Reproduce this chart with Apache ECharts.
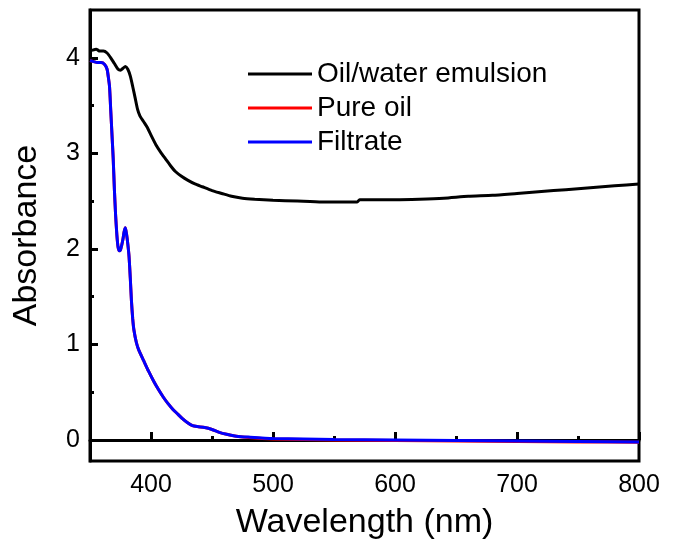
<!DOCTYPE html>
<html>
<head>
<meta charset="utf-8">
<script src="https://cdn.jsdelivr.net/npm/echarts@6/dist/echarts.min.js"></script>
<style>
html,body{margin:0;padding:0;background:#fff;}
#chart{width:676px;height:548px;}
</style>
</head>
<body>
<div id="chart"></div>
<script>
// ---- Data ----
const seriesNames = ['Oil/water emulsion', 'Pure oil', 'Filtrate'];

const emulsionWl  = [350,352,355,358,361,364,367,370,373,375,377,379,381,383,385,387,389,391,394,397,400,404,408,412,416,420,425,430,436,442,450,458,466,475,485,500,520,540,560,569,571,580,600,620,640,660,680,700,720,740,760,780,800];
const emulsionAbs = [4.07,4.08,4.09,4.07,4.07,4.05,4.00,3.94,3.88,3.87,3.89,3.91,3.88,3.81,3.70,3.58,3.46,3.39,3.33,3.27,3.19,3.09,3.01,2.94,2.87,2.81,2.76,2.72,2.68,2.65,2.61,2.58,2.55,2.53,2.52,2.51,2.50,2.49,2.49,2.49,2.515,2.515,2.515,2.52,2.53,2.55,2.56,2.58,2.60,2.62,2.64,2.66,2.68];

const oilWl  = [350,353,356,359,362,364,365,366,367,368,369,370,371,372,373,374,375,376,377,378,379,380,381,382,383,384,385,386,388,390,394,398,402,406,410,414,418,422,426,430,434,438,444,450,456,462,470,480,500,550,600,650,700,750,800];
const oilAbs = [3.97,3.96,3.95,3.95,3.93,3.88,3.80,3.70,3.45,3.20,2.95,2.62,2.35,2.15,2.02,1.98,1.99,2.04,2.10,2.18,2.22,2.15,2.05,1.92,1.70,1.45,1.27,1.15,1.02,0.94,0.83,0.72,0.62,0.53,0.45,0.38,0.32,0.27,0.22,0.18,0.15,0.14,0.13,0.11,0.08,0.06,0.04,0.025,0.01,0.0,-0.005,-0.01,-0.015,-0.02,-0.025];

const filtrateWl  = [350,353,356,359,362,364,365,366,367,368,369,370,371,372,373,374,375,376,377,378,379,380,381,382,383,384,385,386,388,390,394,398,402,406,410,414,418,422,426,430,434,438,444,450,456,462,470,480,500,550,600,650,700,750,800];
const filtrateAbs = [3.97,3.96,3.95,3.95,3.93,3.88,3.80,3.70,3.45,3.20,2.95,2.62,2.35,2.15,2.02,1.98,1.99,2.04,2.10,2.18,2.22,2.15,2.05,1.92,1.70,1.45,1.27,1.15,1.02,0.94,0.83,0.72,0.62,0.53,0.45,0.38,0.32,0.27,0.22,0.18,0.15,0.14,0.13,0.11,0.08,0.06,0.04,0.03,0.015,0.005,0.0,-0.005,-0.01,-0.015,-0.02];

const xMajorTicks = [400, 500, 600, 700, 800];
const xMinorTicks = [450, 550, 650, 750];
const yMajorTicks = [0, 1, 2, 3, 4];
const yMinorTicks = [0.5, 1.5, 2.5, 3.5];

// ---- Build chart ----
const zip = (a, b) => a.map((v, i) => [v, b[i]]);
const FONT = "'Liberation Sans', Arial, sans-serif";
const colors = ['#000000', '#ff0000', '#0000ff'];

const chart = echarts.init(document.getElementById('chart'), null, {renderer: 'canvas'});

const baseX = {type: 'value', min: 350, max: 800, position: 'bottom', gridIndex: 0};
const baseY = {type: 'value', min: -0.22, max: 4.5, position: 'left', gridIndex: 0};

chart.setOption({
  animation: false,
  backgroundColor: '#fff',
  grid: {left: 90, right: 37, top: 10, bottom: 87, show: true, borderColor: '#000', borderWidth: 3, backgroundColor: 'transparent'},
  legend: {
    orient: 'vertical', left: 243, top: 55, itemGap: 6, itemWidth: 64, itemHeight: 3,
    textStyle: {fontSize: 28, color: '#000', fontFamily: FONT},
    data: seriesNames.map((n, i) => ({name: n, icon: 'rect', itemStyle: {color: colors[i]}}))
  },
  xAxis: [
    Object.assign({}, baseX, {
      name: 'Wavelength (nm)', nameLocation: 'middle', nameGap: 45,
      nameTextStyle: {fontSize: 34, color: '#000', fontFamily: FONT},
      axisLine: {show: true, lineStyle: {color: '#000', width: 3}},
      axisTick: {show: true, inside: true, length: 8, lineStyle: {color: '#000', width: 3}, customValues: xMajorTicks},
      axisLabel: {show: true, fontSize: 25, color: '#000', fontFamily: FONT, margin: 12, customValues: xMajorTicks},
      splitLine: {show: false}
    }),
    Object.assign({}, baseX, {
      axisLine: {show: false},
      axisTick: {show: true, inside: true, length: 4, lineStyle: {color: '#000', width: 3}, customValues: xMinorTicks},
      axisLabel: {show: false},
      splitLine: {show: false}
    })
  ],
  yAxis: [
    Object.assign({}, baseY, {
      name: 'Absorbance', nameLocation: 'middle', nameGap: 46,
      nameTextStyle: {fontSize: 34, color: '#000', fontFamily: FONT},
      axisLine: {show: true, lineStyle: {color: '#000', width: 3}},
      axisTick: {show: true, inside: true, length: 8, lineStyle: {color: '#000', width: 3}, customValues: yMajorTicks},
      axisLabel: {show: true, fontSize: 25, color: '#000', fontFamily: FONT, margin: 10, customValues: yMajorTicks},
      splitLine: {show: false}
    }),
    Object.assign({}, baseY, {
      axisLine: {show: false},
      axisTick: {show: true, inside: true, length: 4, lineStyle: {color: '#000', width: 3}, customValues: yMinorTicks},
      axisLabel: {show: false},
      splitLine: {show: false}
    })
  ],
  series: [
    {name: seriesNames[0], type: 'line', data: zip(emulsionWl, emulsionAbs), symbol: 'none', smooth: 0.2,
     lineStyle: {color: colors[0], width: 3}, itemStyle: {color: colors[0]}, z: 3},
    {name: seriesNames[1], type: 'line', data: zip(oilWl, oilAbs), symbol: 'none', smooth: 0.2,
     lineStyle: {color: colors[1], width: 3}, itemStyle: {color: colors[1]}, z: 2},
    {name: seriesNames[2], type: 'line', data: zip(filtrateWl, filtrateAbs), symbol: 'none', smooth: 0.2,
     lineStyle: {color: colors[2], width: 3}, itemStyle: {color: colors[2]}, z: 4}
  ]
});
</script>
</body>
</html>
